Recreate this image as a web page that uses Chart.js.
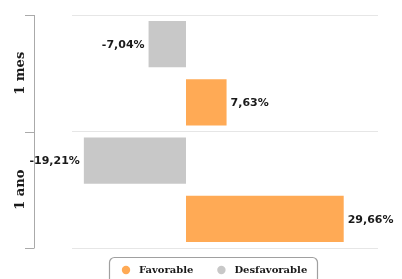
<!DOCTYPE html>
<html>
<head>
<meta charset="utf-8">
<script src="https://cdn.jsdelivr.net/npm/chart.js@4/dist/chart.umd.min.js"></script>
<style>
  html, body { margin: 0; padding: 0; background: #fff; }
  #wrap { width: 402px; height: 279px; }
</style>
</head>
<body>
<div id="wrap"><canvas id="chart" width="402" height="279"></canvas></div>
<script>
const categories = ['1 mes', '1 ano'];
const seriesNames = ['Desfavorable', 'Favorable'];
const desfavorable = [-7.04, -19.21];
const favorable = [7.63, 29.66];
const seriesColors = ['#c8c8c8', '#ffaa55'];

function formatPct(v) {
  return v.toFixed(2).replace('.', ',') + '%';
}

// value labels beside each bar end
const barLabels = {
  id: 'barLabels',
  afterDatasetsDraw(chart) {
    const ctx = chart.ctx;
    ctx.save();
    ctx.font = 'bold 11px "DejaVu Sans"';
    ctx.fillStyle = '#1a1a1a';
    ctx.textBaseline = 'middle';
    chart.data.datasets.forEach((ds, i) => {
      const meta = chart.getDatasetMeta(i);
      meta.data.forEach((bar, j) => {
        const v = ds.data[j];
        if (v < 0) {
          ctx.textAlign = 'right';
          ctx.fillText(formatPct(v), bar.x - 4, bar.y + 1);
        } else {
          ctx.textAlign = 'left';
          ctx.fillText(formatPct(v), bar.x + 4, bar.y + 1);
        }
      });
    });
    ctx.restore();
  }
};

// category axis drawn off to the left, labels rotated
const sideAxis = {
  id: 'sideAxis',
  afterDraw(chart) {
    const ctx = chart.ctx;
    const area = chart.chartArea;
    const y = chart.scales.y;
    const n = categories.length;
    const band = (area.bottom - area.top) / n;
    const axisX = 34.5;
    ctx.save();
    ctx.strokeStyle = '#aaaaaa';
    ctx.lineWidth = 1;
    ctx.beginPath();
    ctx.moveTo(axisX, area.top);
    ctx.lineTo(axisX, area.bottom);
    for (let i = 0; i <= n; i++) {
      const ty = Math.round(area.top + i * band) + 0.5;
      ctx.moveTo(25, ty);
      ctx.lineTo(axisX, ty);
    }
    ctx.stroke();
    ctx.font = 'bold 13px "DejaVu Serif"';
    ctx.fillStyle = '#1a1a1a';
    ctx.textAlign = 'center';
    ctx.textBaseline = 'middle';
    categories.forEach((c, i) => {
      const cy = y.getPixelForValue(i);
      ctx.save();
      ctx.translate(21, cy);
      ctx.rotate(-Math.PI / 2);
      ctx.fillText(c, 0, 0);
      ctx.restore();
    });
    ctx.restore();
  }
};

// boxed legend at the bottom (Favorable first)
const boxLegend = {
  id: 'boxLegend',
  afterDraw(chart) {
    const ctx = chart.ctx;
    const left = 109.5, top = 257.5, w = 208, h = 30, r = 5;
    ctx.save();
    ctx.strokeStyle = '#a0a0a0';
    ctx.lineWidth = 1.2;
    ctx.beginPath();
    ctx.roundRect(left, top, w, h, r);
    ctx.stroke();
    ctx.font = 'bold 10px "DejaVu Serif"';
    ctx.textBaseline = 'middle';
    ctx.textAlign = 'left';
    let x = left + 16.5;
    const cy = 270;
    const items = chart.data.datasets.map(d => ({ label: d.label, color: d.backgroundColor })).reverse();
    items.forEach(it => {
      ctx.fillStyle = it.color;
      ctx.beginPath();
      ctx.arc(x, cy, 4.2, 0, Math.PI * 2);
      ctx.fill();
      ctx.fillStyle = '#1a1a1a';
      ctx.fillText(it.label, x + 13, cy);
      x += 13 + ctx.measureText(it.label).width + 28;
    });
    ctx.restore();
  }
};

new Chart(document.getElementById('chart'), {
  type: 'bar',
  data: {
    labels: categories,
    datasets: [
      { label: seriesNames[0], data: desfavorable, backgroundColor: seriesColors[0] },
      { label: seriesNames[1], data: favorable, backgroundColor: seriesColors[1] }
    ]
  },
  options: {
    indexAxis: 'y',
    responsive: false,
    animation: false,
    layout: { padding: { left: 72, right: 24, top: 15, bottom: 31 } },
    datasets: { bar: { categoryPercentage: 1.0, barPercentage: 0.797 } },
    plugins: {
      legend: { display: false },
      tooltip: { enabled: false }
    },
    scales: {
      x: { display: false, min: -21.44, max: 36.11 },
      y: {
        display: true,
        ticks: { display: false },
        border: { display: false },
        grid: { color: '#e6e6e6', lineWidth: 1, drawTicks: false, offset: true }
      }
    }
  },
  plugins: [barLabels, sideAxis, boxLegend]
});
</script>
</body>
</html>
